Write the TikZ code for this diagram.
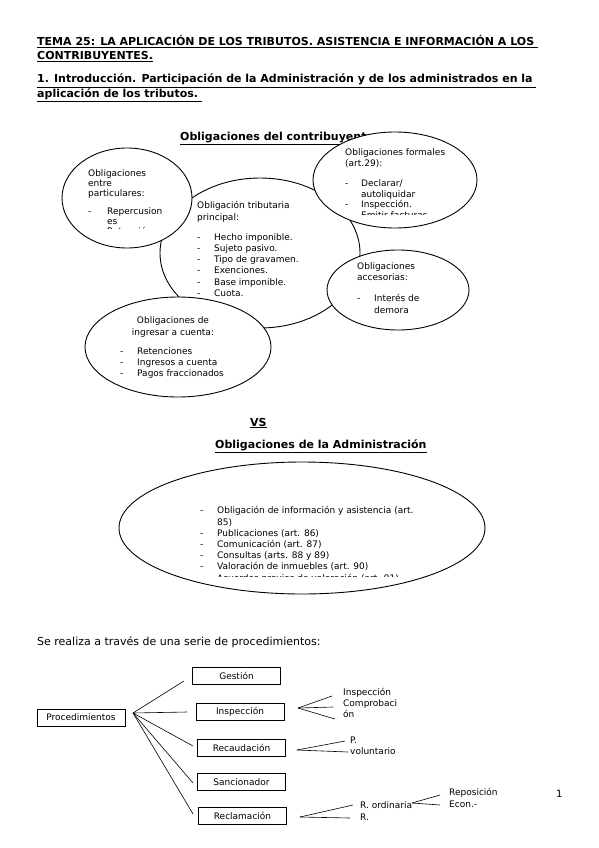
\documentclass[tikz,border=0pt]{standalone}
\usepackage{fontspec}
\setmainfont{DejaVu Sans}
\usetikzlibrary{shapes.geometric}
\begin{document}
\begin{tikzpicture}[x=1pt,y=-1pt,
 ell/.style={ellipse, draw, fill=white, line width=0.9pt, inner sep=0pt, outer sep=0pt},
 hd/.style={anchor=base west, inner sep=0pt, font=\bfseries\fontsize{11}{15}\selectfont},
 ttl/.style={anchor=base west, inner sep=0pt, font=\bfseries\fontsize{11}{14}\selectfont},
 body/.style={anchor=north west, inner sep=0pt, align=left, font=\fontsize{9}{11.2}\selectfont},
 pbox/.style={draw, line width=0.9pt, inner sep=0pt, minimum width=88pt, minimum height=17pt, font=\fontsize{9}{11}\selectfont},
 conn/.style={line width=0.6pt},
 lbl/.style={anchor=north west, inner sep=0pt, align=left, font=\fontsize{9}{10.8}\selectfont}]
\fill[white] (0,0) rectangle (599,848);
\useasboundingbox (0,0) rectangle (599,848);
\newcommand{\dsh}[1][17pt]{\makebox[#1][l]{-}}
% titles
\node[ttl] (t1) at (37,45.5) {\underline{TEMA 25: LA APLICACIÓN DE LOS TRIBUTOS. ASISTENCIA E INFORMACIÓN A LOS\ }};
\node[ttl] (t2) at (37,60) {\underline{CONTRIBUYENTES.}};
\node[hd] (s1) at (37,83) {\underline{1. Introducción. Participación de la Administración y de los administrados en la\ }};
\node[hd] (s2) at (37,98) {\underline{aplicación de los tributos.\ }};
\node[hd] (oc) at (180,140) {\underline{Obligaciones del contribuyente}};
% principal
\node[ell, minimum width=200pt, minimum height=150pt] (princ) at (260,253) {};
\begin{scope}
\clip (190,195) rectangle (320,302);
\node[body] (princt) at (197,201.5) {Obligación tributaria\\principal:\\[9pt]
\dsh Hecho imponible.\\ \dsh Sujeto pasivo.\\ \dsh Tipo de gravamen.\\ \dsh Exenciones.\\ \dsh Base imponible.\\ \dsh Cuota.};
\end{scope}
% particulares
\node[ell, minimum width=130pt, minimum height=100pt] (part) at (127,198) {};
\begin{scope}
\clip (85,165) rectangle (170,228);
\node[body, font=\fontsize{9}{10}\selectfont] (partt) at (88,169.5) {Obligaciones\\entre\\particulares:\\[8pt]
\dsh[19pt]Repercusion\\ \hspace*{19pt}es\\ \hspace*{19pt}Retención};
\end{scope}
% formales
\node[ell, minimum width=164pt, minimum height=96pt] (form) at (395,180) {};
\begin{scope}
\clip (340,145) rectangle (450,214.5);
\node[body, font=\fontsize{9}{10.5}\selectfont] (formt) at (345,148.5) {Obligaciones formales\\(art.29):\\[10pt]
\dsh[16pt]Declarar/\\ \hspace*{16pt}autoliquidar\\ \dsh[16pt]Inspección.\\ \dsh[16pt]Emitir facturas};
\end{scope}
% accesorias
\node[ell, minimum width=142pt, minimum height=80pt] (acc) at (398,290) {};
\node[body, font=\fontsize{9}{11.2}\selectfont] (acct) at (357,262.5) {Obligaciones\\accesorias:\\[10pt]
\dsh[17pt]Interés de\\ \hspace*{17pt}demora};
% ingresar a cuenta
\node[ell, minimum width=186pt, minimum height=100pt] (ing) at (178,347) {};
\node[body, align=center] (ingh) at (173,327) [anchor=center] {Obligaciones de\\ingresar a cuenta:};
\node[body] (ingt) at (120,347.5) {\dsh Retenciones\\ \dsh Ingresos a cuenta\\ \dsh Pagos fraccionados};
% VS and administracion
\node[hd] (vs) at (250,426) {\underline{VS}};
\node[hd] (oa) at (215,448) {\underline{Obligaciones de la Administración}};
\node[ell, minimum width=366pt, minimum height=132pt] (adm) at (302,528) {};
\begin{scope}
\clip (190,500) rectangle (440,576.5);
\node[body] (admt) at (200,506.5) {\dsh Obligación de información y asistencia (art.\\ \hspace*{17pt}85)\\
\dsh Publicaciones (art. 86)\\ \dsh Comunicación (art. 87)\\ \dsh Consultas (arts. 88 y 89)\\ \dsh Valoración de inmuebles (art. 90)\\ \dsh Acuerdos previos de valoración (art. 91)};
\end{scope}
% procedimientos
\node[anchor=base west, inner sep=0pt, font=\fontsize{11}{13}\selectfont] (se) at (37,645) {Se realiza a través de una serie de procedimientos:};
\node[pbox] (proc) at (81,717.5) {Procedimientos};
\node[pbox] (ges) at (236.5,675.5) {Gestión};
\node[pbox] (ins) at (240,712) {Inspección};
\node[pbox] (rec) at (241.5,748) {Recaudación};
\node[pbox] (san) at (241.5,782) {Sancionador};
\node[pbox] (recl) at (242.5,815.5) {Reclamación};
\coordinate (pf) at (133,713);
\coordinate (eg) at (184,681);
\coordinate (ei) at (187,712);
\coordinate (er) at (193,746);
\coordinate (es) at (193,783);
\coordinate (ec) at (193,814);
\foreach \e in {eg,ei,er,es,ec} \draw[conn] (pf) -- (\e);
% inspeccion branch
\coordinate (fi) at (298,708);
\coordinate (fi1) at (332,696);
\coordinate (fi2) at (333,707);
\coordinate (fi3) at (335,719);
\foreach \e in {fi1,fi2,fi3} \draw[conn] (fi) -- (\e);
\node[lbl] (insl) at (343,688.5) {Inspección\\Comprobaci\\ón};
% recaudacion branch
\coordinate (fr) at (297,750);
\coordinate (fr1) at (345,741);
\coordinate (fr2) at (348,752);
\foreach \e in {fr1,fr2} \draw[conn] (fr) -- (\e);
\node[lbl] (recll) at (350,736.5) {P.\\voluntario};
% reclamacion branch
\coordinate (fc) at (300,817);
\coordinate (fc1) at (353,805);
\coordinate (fc2) at (350,818);
\foreach \e in {fc1,fc2} \draw[conn] (fc) -- (\e);
\node[lbl, font=\fontsize{9}{12}\selectfont] (ord) at (360,801) {R. ordinaria\\R.};
\coordinate (fo) at (412,803);
\coordinate (fo1) at (440,795);
\coordinate (fo2) at (440,805);
\foreach \e in {fo1,fo2} \draw[conn] (fo) -- (\e);
\node[lbl, font=\fontsize{9}{11.3}\selectfont] (repo) at (449,788.5) {Reposición\\Econ.-};
\node[anchor=base west, inner sep=0pt, font=\fontsize{10}{12}\selectfont] (pg) at (556,797) {1};
\end{tikzpicture}
\end{document}
